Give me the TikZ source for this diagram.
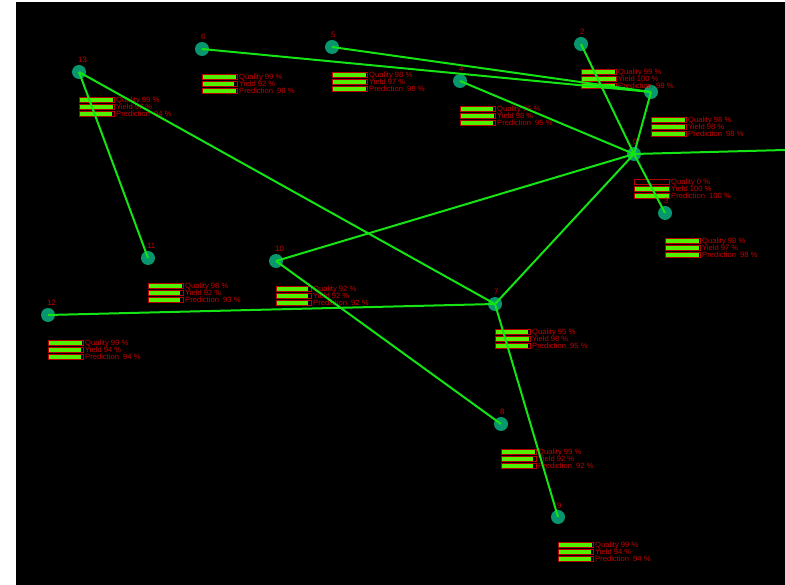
\documentclass[tikz,border=0pt]{standalone}
\usepackage{fontspec}
\setmainfont{Liberation Sans}
\definecolor{edgegreen}{RGB}{20,228,20}
\definecolor{nodeteal}{RGB}{8,150,110}
\definecolor{txtred}{RGB}{200,0,0}
\definecolor{barred}{RGB}{185,0,0}
\definecolor{barfill}{RGB}{80,240,0}
\tikzset{
  vtx/.style={circle,fill=nodeteal,draw=none,minimum size=14pt,inner sep=0pt},
  conn/.style={edgegreen,line width=2pt},
  numlbl/.style={text=txtred,font=\fontsize{7.8}{8}\selectfont,anchor=base west,inner sep=0pt},
  statlbl/.style={text=txtred,font=\fontsize{7.6}{8}\selectfont,anchor=base west,inner sep=0pt},
  barframe/.style={draw=barred,line width=0.6pt},
  barin/.style={fill=barfill,draw=none}
}
% #1 name, #2 x, #3 y, #4 label, #5 Q, #6 Y, #7 P
\newcommand{\statnode}[7]{%
  \node[vtx] (#1) at (#2,#3) {};
  \ifx&#4&\else\node[numlbl] (#1-num) at (#2-1,#3-9) {#4};\fi
  \foreach \k/\v/\t in {0/#5/{Quality #5 \%},1/#6/{Yield #6 \%},2/#7/{Prediction\ \ #7 \%}}{
    \ifnum\v>0
      \fill[barin] (#2+0.3,#3+25.3+7*\k) rectangle (#2+0.3+34.4*\v/100,#3+29.7+7*\k);
    \fi
    \draw[barframe] (#2,#3+25+7*\k) rectangle (#2+35,#3+30+7*\k);
    \node[statlbl] (#1-s\k) at (#2+37,#3+30.3+7*\k) {\t};
  }%
}
\begin{document}
\begin{tikzpicture}[x=1pt,y=-1pt]
\useasboundingbox (0,0) rectangle (785,585);
\fill[white] (0,0) rectangle (785,585);
\fill[black] (16,2) rectangle (785,585);
\statnode{n1}{651}{92}{}{98}{98}{98}
\statnode{n2}{581}{44}{2}{99}{100}{98}
\statnode{n0}{634}{154}{0}{0}{100}{100}
\statnode{n3}{665}{213}{3}{98}{97}{98}
\statnode{n4}{460}{81}{4}{95}{98}{95}
\statnode{n5}{332}{47}{5}{98}{97}{98}
\statnode{n6}{202}{49}{6}{99}{92}{98}
\statnode{n7}{495}{304}{7}{95}{98}{95}
\statnode{n8}{501}{424}{8}{99}{92}{92}
\statnode{n9}{558}{517}{9}{99}{94}{94}
\statnode{n10}{276}{261}{10}{92}{92}{92}
\statnode{n11}{148}{258}{11}{98}{92}{93}
\statnode{n12}{48}{315}{12}{99}{94}{94}
\statnode{n13}{79}{72}{13}{99}{97}{94}
\coordinate (rightend) at (785,150);
\draw[conn] (n13.center) -- (n11.center);
\draw[conn] (n13.center) -- (n7.center);
\draw[conn] (n6.center) -- (n1.center);
\draw[conn] (n5.center) -- (n1.center);
\draw[conn] (n4.center) -- (n0.center);
\draw[conn] (n2.center) -- (n0.center);
\draw[conn] (n1.center) -- (n0.center);
\draw[conn] (n0.center) -- (n3.center);
\draw[conn] (n0.center) -- (rightend);
\draw[conn] (n0.center) -- (n10.center);
\draw[conn] (n0.center) -- (n7.center);
\draw[conn] (n12.center) -- (n7.center);
\draw[conn] (n10.center) -- (n8.center);
\draw[conn] (n7.center) -- (n9.center);
\end{tikzpicture}
\end{document}
